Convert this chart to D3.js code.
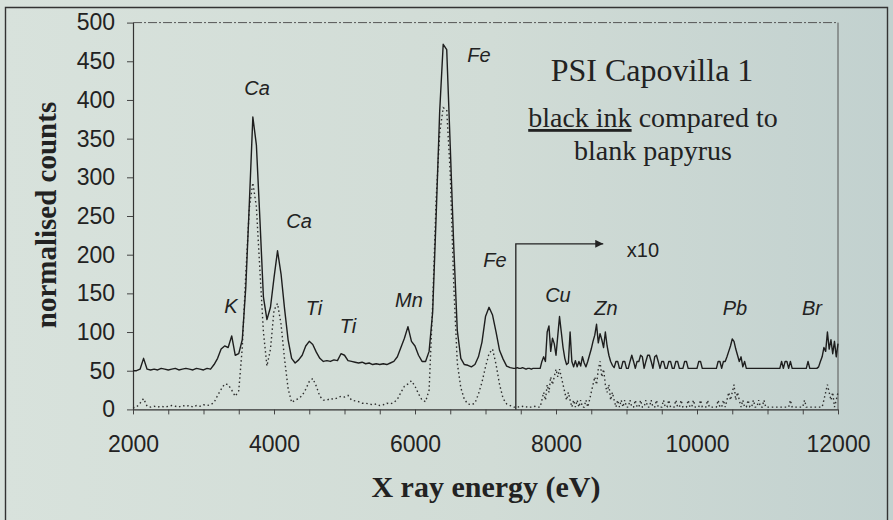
<!DOCTYPE html>
<html><head><meta charset="utf-8">
<script src="https://cdn.jsdelivr.net/npm/d3@7"></script>
<style>
html,body{margin:0;padding:0;background:#d4ded8;}
svg{display:block;}
</style></head><body>
<svg id="chart" width="893" height="520"></svg>
<script>
// ---------------- DATA ----------------
// channel energies (eV): 50 eV channels below the x10 mark, 25 eV above it
const energyLow  = d3.range(2000, 7400, 50);    // 2000 .. 7350
const energyHigh = d3.range(7400, 12001, 25);   // 7400 .. 12000

// black ink (solid line), normalised counts
const inkLow = [
  50, 50, 52, 66, 52, 51, 52, 51, 53, 52,      // 2000-2450
  51, 52, 53, 51, 52, 53, 52, 51, 53, 52,      // 2500-2950
  51, 53, 52, 58, 66, 78, 82, 80, 95, 70,      // 3000-3450
  72, 90, 158, 266, 378, 342, 246, 145, 116, 132, // 3500-3950
  170, 205, 175, 130, 90, 66, 60, 64, 70, 82,  // 4000-4450
  88, 84, 74, 66, 62, 63, 62, 64, 63, 72,      // 4500-4950
  70, 63, 62, 61, 60, 61, 59, 60, 58, 59,      // 5000-5450
  58, 59, 58, 60, 62, 68, 80, 92, 107, 88,     // 5500-5950
  82, 70, 62, 62, 75, 125, 250, 385, 472, 465, // 6000-6450
  340, 210, 102, 66, 58, 57, 55, 58, 68, 87,   // 6500-6950
  120, 132, 122, 100, 76, 65, 56, 54           // 7000-7350
];
const inkHigh = [
  53, 53, 54, 53, 53, 54, 53, 52,      // 7400
  53, 53, 52, 53, 53, 53, 53, 53,      // 7600
  62, 68, 62, 100, 108, 75, 92, 85,    // 7800
  70, 95, 120, 100, 80, 66, 58, 60,    // 8000
  100, 62, 55, 63, 55, 62, 56, 68,     // 8200
  60, 55, 62, 70, 78, 88, 96, 110,     // 8400
  86, 98, 90, 80, 100, 82, 70, 62,     // 8600
  57, 54, 62, 62, 53, 53, 62, 62,      // 8800
  53, 53, 62, 70, 62, 53, 62, 62,      // 9000
  70, 68, 53, 62, 70, 70, 62, 53,      // 9200
  68, 70, 62, 53, 62, 62, 53, 53,      // 9400
  62, 62, 53, 53, 62, 62, 53, 53,      // 9600
  53, 62, 62, 53, 53, 53, 53, 53,      // 9800
  53, 62, 62, 53, 53, 53, 53, 53,      // 10000
  53, 53, 53, 53, 62, 62, 53, 62,      // 10200
  62, 68, 75, 82, 91, 88, 78, 70,      // 10400
  62, 68, 55, 62, 53, 53, 53, 53,      // 10600
  53, 53, 53, 53, 53, 53, 53, 53,      // 10800
  53, 53, 53, 53, 53, 53, 53, 53,      // 11000
  62, 53, 62, 62, 53, 62, 53, 53,      // 11200
  53, 53, 53, 53, 53, 53, 53, 62,      // 11400
  53, 53, 53, 53, 53, 55, 62, 68,      // 11600
  80, 75, 100, 78, 90, 72, 88, 68,     // 11800
  85                                   // 12000
];

// blank papyrus (dotted line), normalised counts
const papyrusLow = [
  2, 3, 8, 14, 4, 3, 4, 3, 4, 3,               // 2000-2450
  4, 5, 4, 3, 5, 4, 5, 3, 5, 4,                // 2500-2950
  6, 5, 6, 9, 18, 26, 33, 32, 25, 17,          // 3000-3450
  24, 80, 175, 260, 293, 262, 180, 100, 56, 78, // 3500-3950
  128, 137, 110, 65, 27, 9, 12, 14, 18, 26,    // 4000-4450
  36, 40, 30, 17, 12, 12, 14, 13, 15, 17,      // 4500-4950
  16, 18, 12, 11, 10, 8, 8, 7, 6, 7,           // 5000-5450
  5, 6, 8, 7, 9, 13, 22, 30, 33, 37,           // 5500-5950
  30, 20, 12, 10, 25, 135, 272, 357, 390, 387, // 6000-6450
  305, 160, 60, 28, 13, 7, 6, 8, 20, 35,       // 6500-6950
  55, 72, 78, 58, 32, 14, 7, 5                 // 7000-7350
];
const papyrusHigh = [
  3, 3, 4, 3, 3, 4, 3, 3,              // 7400
  4, 3, 3, 3, 4, 3, 3, 3,              // 7600
  12, 22, 12, 32, 22, 42, 32, 42,      // 7800
  52, 42, 52, 42, 32, 22, 12, 22,      // 8000
  12, 3, 12, 3, 12, 3, 12, 3,          // 8200
  3, 12, 3, 12, 22, 32, 42, 32,        // 8400
  52, 62, 42, 52, 32, 22, 32, 12,      // 8600
  22, 12, 3, 12, 3, 12, 3, 12,         // 8800
  3, 3, 12, 3, 3, 12, 3, 3,            // 9000
  12, 3, 3, 12, 3, 3, 12, 3,           // 9200
  3, 12, 3, 3, 3, 12, 3, 3,            // 9400
  12, 3, 3, 3, 12, 3, 3, 12,           // 9600
  3, 3, 3, 12, 3, 3, 12, 3,            // 9800
  3, 3, 12, 3, 3, 3, 12, 3,            // 10000
  3, 3, 3, 3, 12, 3, 3, 12,            // 10200
  3, 12, 22, 12, 22, 32, 12, 22,       // 10400
  12, 3, 12, 3, 3, 12, 3, 3,           // 10600
  12, 3, 3, 12, 3, 3, 12, 3,           // 10800
  3, 3, 3, 3, 3, 3, 3, 3,              // 11000
  3, 3, 3, 3, 3, 12, 3, 3,             // 11200
  3, 3, 3, 3, 3, 12, 3, 3,             // 11400
  3, 3, 3, 3, 3, 3, 3, 3,              // 11600
  12, 22, 32, 22, 12, 22, 3, 12,       // 11800
  22                                   // 12000
];

const yTickValues = [0, 50, 100, 150, 200, 250, 300, 350, 400, 450, 500];
const xMinorTicks = d3.range(2000, 12001, 500);
const xLabelTicks = [2000, 4000, 6000, 8000, 10000, 12000];

const peakLabels = ["Ca", "Ca", "K", "Ti", "Ti", "Mn", "Fe", "Fe", "Cu", "Zn", "Pb", "Br"];
const peakLabelEnergy = [3759, 4355, 3390, 4567, 5050, 5915, 6908, 7135, 8028, 8709, 10539, 11631];
const peakLabelCounts = [406, 234, 125, 122, 99, 132, 449, 184, 139, 122, 122, 122];

const scaleMark = {label: "x10", energyStart: 7430, energyEnd: 8670, level: 214, labelEnergy: 9234, labelCounts: 197};

const titleText = "PSI Capovilla 1";
const subtitleUnderlined = "black ink";
const subtitleRest = " compared to";
const subtitleLine2 = "blank papyrus";
const xTitle = "X ray energy (eV)";
const yTitle = "normalised counts";

// ---------------- DRAW ----------------
const svg = d3.select("#chart");
const defs = svg.append("defs");
const grad = defs.append("linearGradient").attr("id", "bg").attr("x1", "0").attr("x2", "1").attr("y1", "0").attr("y2", "0");
grad.append("stop").attr("offset", "0%").attr("stop-color", "#d8e2dc");
grad.append("stop").attr("offset", "55%").attr("stop-color", "#d1dcd6");
grad.append("stop").attr("offset", "100%").attr("stop-color", "#c2d1cf");
defs.append("marker").attr("id", "arrow").attr("viewBox", "0 0 10 10")
  .attr("refX", 10).attr("refY", 5).attr("markerWidth", 11).attr("markerHeight", 8)
  .attr("markerUnits", "userSpaceOnUse").attr("orient", "auto")
  .append("path").attr("d", "M0,0 L10,5 L0,10 Z").attr("fill", "#222");

svg.append("rect").attr("width", 893).attr("height", 520).attr("fill", "url(#bg)");
// outer frame
svg.append("path").attr("d", "M5.5,540 L5.5,7.5 L887.5,7.5 L887.5,540")
  .attr("fill", "none").attr("stroke", "#333").attr("stroke-width", 1.4);

const x = d3.scaleLinear().domain([2000, 12000]).range([133, 838]);
const y = d3.scaleLinear().domain([0, 500]).range([409.4, 22.6]);

// plot border (top dashed, right thin)
svg.append("line").attr("x1", 133).attr("x2", 838).attr("y1", y(500)).attr("y2", y(500))
  .attr("stroke", "#555").attr("stroke-width", 1).attr("stroke-dasharray", "9,2,2,2");
svg.append("line").attr("x1", 838).attr("x2", 838).attr("y1", y(500)).attr("y2", y(0))
  .attr("stroke", "#555").attr("stroke-width", 1);

// axes
const yAxis = d3.axisLeft(y).tickValues(yTickValues).tickSize(6).tickSizeOuter(0).tickPadding(12);
const gy = svg.append("g").attr("transform", "translate(133,0)").call(yAxis);
gy.selectAll("text").attr("font-family", "'Liberation Sans', Arial, sans-serif").attr("font-size", 23).attr("fill", "#222");
gy.selectAll("line").attr("stroke", "#444");
gy.select(".domain").attr("stroke", "#333").attr("stroke-width", 1.2);

const xAxisMinor = d3.axisBottom(x).tickValues(xMinorTicks).tickSize(5).tickSizeOuter(0).tickFormat("");
const gxm = svg.append("g").attr("transform", `translate(0,${y(0)})`).call(xAxisMinor);
gxm.selectAll("line").attr("stroke", "#444");
gxm.select(".domain").attr("stroke", "#333").attr("stroke-width", 1.2);
const xAxisLabels = d3.axisBottom(x).tickValues(xLabelTicks).tickSize(0).tickPadding(26).tickFormat(d3.format("d"));
const gxl = svg.append("g").attr("transform", `translate(0,${y(0)})`).call(xAxisLabels);
gxl.select(".domain").remove();
gxl.selectAll("text").attr("font-family", "'Liberation Sans', Arial, sans-serif").attr("font-size", 23).attr("fill", "#222");

// series
const inkSeries = energyLow.map((e, i) => [e, inkLow[i]])
  .concat(energyHigh.map((e, i) => [e, inkHigh[i]]))
  .filter(d => d[1] !== undefined);
const papyrusSeries = energyLow.map((e, i) => [e, papyrusLow[i]])
  .concat(energyHigh.map((e, i) => [e, papyrusHigh[i]]))
  .filter(d => d[1] !== undefined);
const line = d3.line().x(d => x(d[0])).y(d => y(d[1]));

svg.append("path").datum(papyrusSeries).attr("d", line)
  .attr("fill", "none").attr("stroke", "#2e2e2e").attr("stroke-width", 1.4)
  .attr("stroke-dasharray", "1.5,2.8");
svg.append("path").datum(inkSeries).attr("d", line)
  .attr("fill", "none").attr("stroke", "#1e1e1e").attr("stroke-width", 1.4)
  .attr("stroke-linejoin", "round");

// x10 marker
svg.append("path")
  .attr("d", `M${x(scaleMark.energyStart)},${y(0)} L${x(scaleMark.energyStart)},${y(scaleMark.level)} L${x(scaleMark.energyEnd)},${y(scaleMark.level)}`)
  .attr("fill", "none").attr("stroke", "#222").attr("stroke-width", 1.3).attr("marker-end", "url(#arrow)");
svg.append("text").attr("x", x(scaleMark.labelEnergy)).attr("y", y(scaleMark.labelCounts))
  .attr("text-anchor", "middle").attr("font-family", "'Liberation Sans', Arial, sans-serif")
  .attr("font-size", 20).attr("fill", "#222").text(scaleMark.label);

// peak labels
svg.append("g").selectAll("text").data(peakLabels).join("text")
  .attr("x", (d, i) => x(peakLabelEnergy[i]))
  .attr("y", (d, i) => y(peakLabelCounts[i]))
  .attr("text-anchor", "middle")
  .attr("font-family", "'Liberation Sans', Arial, sans-serif")
  .attr("font-style", "italic").attr("font-size", 20).attr("fill", "#222")
  .text(d => d);

// title block
const serif = "'Liberation Serif', 'Times New Roman', serif";
svg.append("text").attr("x", 652).attr("y", 81).attr("text-anchor", "middle")
  .attr("font-family", serif).attr("font-size", 32).attr("fill", "#222").text(titleText);
const sub = svg.append("text").attr("x", 653).attr("y", 127).attr("text-anchor", "middle")
  .attr("font-family", serif).attr("font-size", 28).attr("fill", "#222");
sub.append("tspan").style("text-decoration", "underline").text(subtitleUnderlined);
sub.append("tspan").text(subtitleRest);
svg.append("text").attr("x", 653).attr("y", 160).attr("text-anchor", "middle")
  .attr("font-family", serif).attr("font-size", 28).attr("fill", "#222").text(subtitleLine2);

// axis titles
svg.append("text").attr("x", 486).attr("y", 497).attr("text-anchor", "middle")
  .attr("font-family", serif).attr("font-weight", "bold").attr("font-size", 30).attr("fill", "#222").text(xTitle);
svg.append("text").attr("transform", "translate(56,215) rotate(-90)").attr("text-anchor", "middle")
  .attr("font-family", serif).attr("font-weight", "bold").attr("font-size", 29).attr("fill", "#222").text(yTitle);
</script>
</body></html>
